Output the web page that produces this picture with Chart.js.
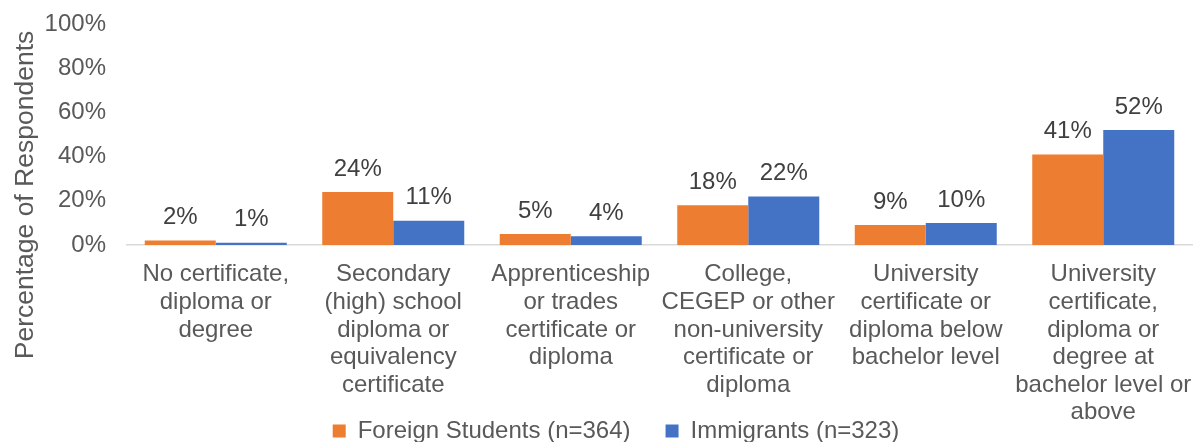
<!DOCTYPE html>
<html>
<head>
<meta charset="utf-8">
<script src="https://cdn.jsdelivr.net/npm/chart.js@4/dist/chart.umd.min.js"></script>
<style>
  html, body { margin: 0; padding: 0; background: #ffffff; }
  #wrap { width: 1193px; height: 442px; }
</style>
</head>
<body>
<div id="wrap"><canvas id="education-chart"></canvas></div>
<script>
// education level by respondent group (percent)
const categories = [
  ["No certificate,", "diploma or", "degree"],
  ["Secondary", "(high) school", "diploma or", "equivalency", "certificate"],
  ["Apprenticeship", "or trades", "certificate or", "diploma"],
  ["College,", "CEGEP or other", "non-university", "certificate or", "diploma"],
  ["University", "certificate or", "diploma below", "bachelor level"],
  ["University", "certificate,", "diploma or", "degree at", "bachelor level or", "above"],
];
const foreignStudents = [2, 24, 5, 18, 9, 41];
const immigrants = [1, 11, 4, 22, 10, 52];
const seriesNames = ["Foreign Students (n=364)", "Immigrants (n=323)"];
const yTicks = [0, 20, 40, 60, 80, 100];
const yTitle = "Percentage of Respondents";

const FONT = "'Liberation Sans', Arial, sans-serif";
const GREY = "#595959";

// value labels above each bar
const barLabels = {
  id: "barLabels",
  afterDatasetsDraw(chart) {
    const ctx = chart.ctx;
    ctx.save();
    ctx.font = "24px " + FONT;
    ctx.fillStyle = "#404040";
    ctx.textAlign = "center";
    ctx.textBaseline = "middle";
    chart.data.datasets.forEach((ds, i) => {
      chart.getDatasetMeta(i).data.forEach((bar, j) => {
        ctx.fillText(ds.data[j] + "%", bar.x, bar.y - 23);
      });
    });
    ctx.restore();
  },
};

// rotated y axis title, centred lower than the plot area
const sideTitle = {
  id: "sideTitle",
  afterDraw(chart) {
    const ctx = chart.ctx;
    ctx.save();
    ctx.translate(33, 195);
    ctx.rotate(-Math.PI / 2);
    ctx.font = "26.5px " + FONT;
    ctx.fillStyle = GREY;
    ctx.textAlign = "center";
    ctx.textBaseline = "alphabetic";
    ctx.fillText(yTitle, 0, 0);
    ctx.restore();
  },
};

// legend sits beside the last long label; the x labels run down past their box
const layoutTweaks = {
  id: "layoutTweaks",
  afterLayout(chart) {
    const lg = chart.legend;
    if (lg) {
      lg.top += 11;
      lg.bottom += 11;
      lg.left += 20;
      lg.right += 20;
    }
    chart.scales.x.bottom = chart.height;
  },
};

window.document.addEventListener("DOMContentLoaded", function () {
  const el = document.querySelector("canvas#education-chart");
  new Chart(el, {
    type: "bar",
    data: {
      labels: categories,
      datasets: [
        {
          label: seriesNames[0],
          data: foreignStudents,
          backgroundColor: "#ED7D31",
          categoryPercentage: 0.8,
          barPercentage: 1.0,
        },
        {
          label: seriesNames[1],
          data: immigrants,
          backgroundColor: "#4472C4",
          categoryPercentage: 0.8,
          barPercentage: 1.0,
        },
      ],
    },
    options: {
      responsive: true,
      maintainAspectRatio: false,
      animation: false,
      layout: { padding: { top: 24, right: 1, left: 0, bottom: 0 } },
      scales: {
        x: {
          grid: { display: false, drawTicks: false },
          border: { display: true, color: "#d9d9d9", width: 1.5 },
          ticks: {
            font: { family: FONT, size: 24, lineHeight: 1.15 },
            color: GREY,
            padding: 16,
            maxRotation: 0,
            minRotation: 0,
            autoSkip: false,
          },
          afterFit(scale) {
            scale.height = 128;
            scale.paddingLeft = 0;
            scale.paddingRight = 0;
          },
        },
        y: {
          min: 0,
          max: 100,
          grid: { display: false, drawTicks: false },
          border: { display: false },
          afterBuildTicks(scale) {
            scale.ticks = yTicks.map((v) => ({ value: v }));
          },
          ticks: {
            font: { family: FONT, size: 24 },
            color: GREY,
            padding: 21,
            callback: (v) => v + "%",
          },
          afterFit(scale) {
            scale.width = 127;
            scale.paddingTop = 0;
            scale.paddingBottom = 0;
          },
        },
      },
      plugins: {
        legend: {
          position: "bottom",
          labels: {
            font: { family: FONT, size: 24 },
            color: GREY,
            boxWidth: 13,
            boxHeight: 13,
            padding: 35,
          },
        },
        tooltip: { enabled: false },
      },
    },
    plugins: [barLabels, sideTitle, layoutTweaks],
  });
});
</script>
</body>
</html>
